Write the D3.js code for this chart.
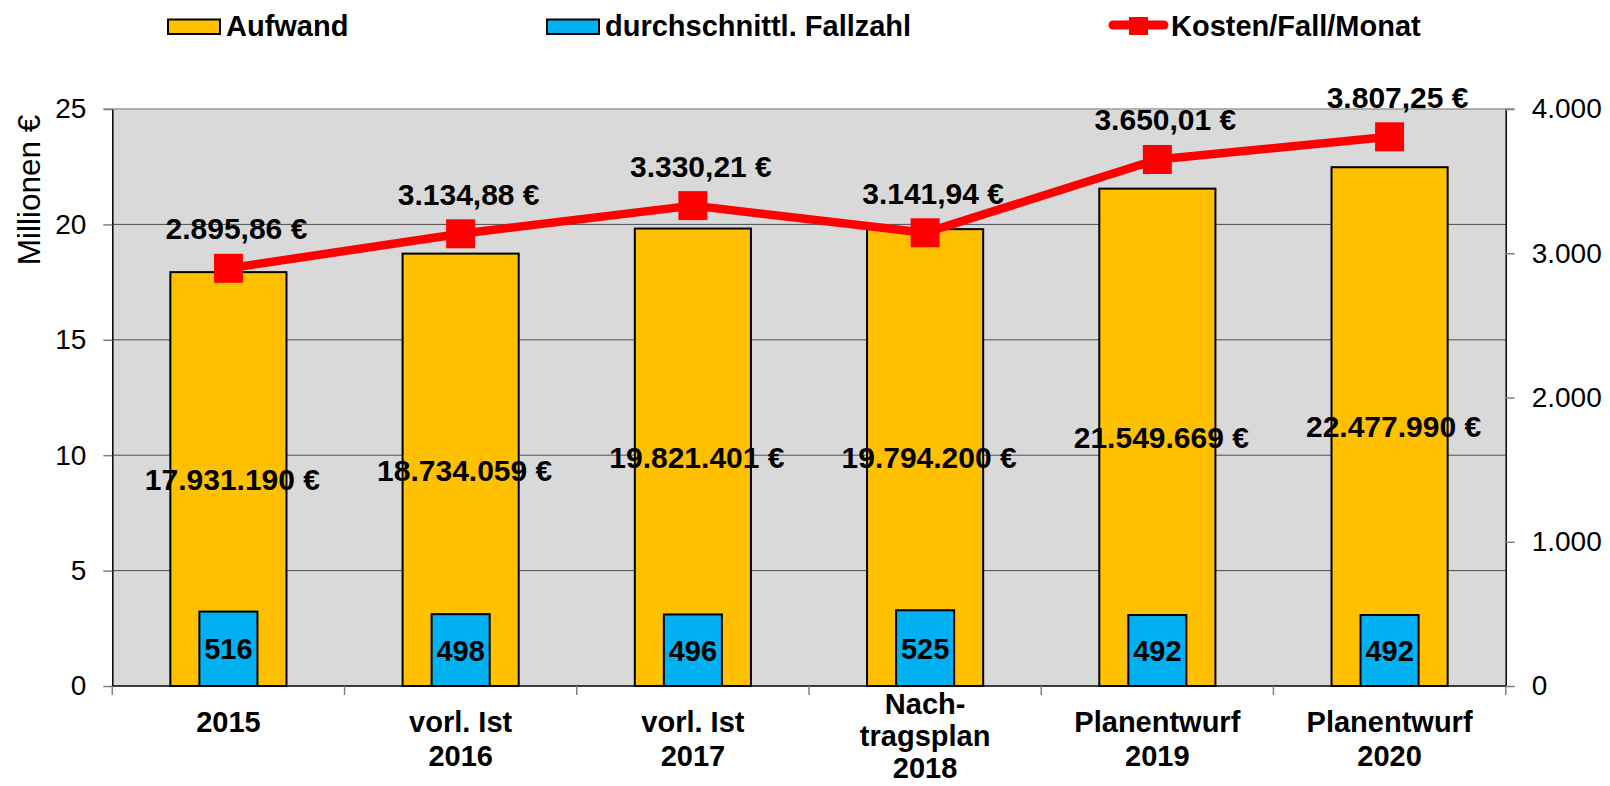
<!DOCTYPE html>
<html>
<head>
<meta charset="utf-8">
<script src="https://cdn.jsdelivr.net/npm/d3@7"></script>
<style>
  body { margin: 0; background: #fff; }
  text { font-family: "Liberation Sans", Arial, sans-serif; }
</style>
</head>
<body>
<div id="chart"></div>
<script>
// data
const categories = ['2015', 'vorl. Ist 2016', 'vorl. Ist 2017', 'Nachtragsplan 2018', 'Planentwurf 2019', 'Planentwurf 2020'];
const categoryLines = [['2015'], ['vorl. Ist', '2016'], ['vorl. Ist', '2017'], ['Nach-', 'tragsplan', '2018'], ['Planentwurf', '2019'], ['Planentwurf', '2020']];
const aufwand = [17931190, 18734059, 19821401, 19794200, 21549669, 22477990];
const fallzahl = [516, 498, 496, 525, 492, 492];
const kosten = [2895.86, 3134.88, 3330.21, 3141.94, 3650.01, 3807.25];
const leftTicks = [0, 5, 10, 15, 20, 25];
const rightTicks = [0, 1000, 2000, 3000, 4000];

const width = 1610, height = 786;
const plot = { left: 112.3, right: 1505.7, top: 109, bottom: 686 };

const orange = '#FFC000', blue = '#00B0F0', red = '#FF0000';

const deNum = d3.formatLocale({ decimal: ',', thousands: '.', grouping: [3], currency: ['', ' €'] });
const fmtInt = deNum.format(',d');
const fmtDec = deNum.format(',.2f');

const svg = d3.select('#chart').append('svg')
    .attr('width', width)
    .attr('height', height);

const x = d3.scaleBand()
    .domain(categories)
    .range([plot.left, plot.right])
    .padding(0);

const yL = d3.scaleLinear().domain([0, 25]).range([plot.bottom, plot.top]);
const yR = d3.scaleLinear().domain([0, 4000]).range([plot.bottom, plot.top]);

// plot background
svg.append('rect')
    .attr('x', plot.left)
    .attr('y', plot.top)
    .attr('width', plot.right - plot.left)
    .attr('height', plot.bottom - plot.top)
    .style('fill', '#D9D9D9');

// gridlines
svg.selectAll('.grid')
    .data(leftTicks.filter(d => d > 0 && d < 25))
    .enter().append('line')
    .attr('class', 'grid')
    .attr('x1', plot.left)
    .attr('x2', plot.right)
    .attr('y1', d => yL(d))
    .attr('y2', d => yL(d))
    .style('stroke', '#4d4d4d')
    .style('stroke-width', 1);

// top border
svg.append('line')
    .attr('x1', plot.left - 9).attr('x2', plot.right + 9)
    .attr('y1', yL(25)).attr('y2', yL(25))
    .style('stroke', '#9a9a9a').style('stroke-width', 1.5);

// left axis
const leftAxis = svg.append('g')
    .attr('transform', `translate(${plot.left},0)`)
    .call(d3.axisLeft(yL).tickValues(leftTicks).tickSize(9).tickPadding(17).tickSizeOuter(0));
leftAxis.select('.domain').style('stroke', '#000').style('stroke-width', 1.5);
leftAxis.selectAll('.tick line').style('stroke', '#808080').style('stroke-width', 1.5);
leftAxis.selectAll('.tick text').style('font-size', '28px').style('fill', '#000');

// right axis
const rightAxis = svg.append('g')
    .attr('transform', `translate(${plot.right},0)`)
    .call(d3.axisRight(yR).tickValues(rightTicks).tickSize(9).tickPadding(17).tickSizeOuter(0)
        .tickFormat(d => fmtInt(d)));
rightAxis.select('.domain').style('stroke', '#000').style('stroke-width', 1.5);
rightAxis.selectAll('.tick line').style('stroke', '#808080').style('stroke-width', 1.5);
rightAxis.selectAll('.tick text').style('font-size', '28px').style('fill', '#000');

// left axis title
svg.append('text')
    .attr('transform', 'translate(40,190) rotate(-90)')
    .style('text-anchor', 'middle')
    .style('font-size', '31.5px')
    .text('Millionen €');

// Aufwand bars
const bw = x.bandwidth();
svg.selectAll('.aufwand')
    .data(aufwand)
    .enter().append('rect')
    .attr('class', 'aufwand')
    .attr('x', (d, i) => x(categories[i]) + bw * 0.25)
    .attr('y', d => yL(d / 1e6))
    .attr('width', bw * 0.5)
    .attr('height', d => plot.bottom - yL(d / 1e6))
    .style('fill', orange)
    .style('stroke', '#000')
    .style('stroke-width', 2);

// Fallzahl bars (right axis)
svg.selectAll('.fall')
    .data(fallzahl)
    .enter().append('rect')
    .attr('class', 'fall')
    .attr('x', (d, i) => x(categories[i]) + bw * 0.375)
    .attr('y', d => yR(d))
    .attr('width', bw * 0.25)
    .attr('height', d => plot.bottom - yR(d))
    .style('fill', blue)
    .style('stroke', '#000')
    .style('stroke-width', 2);

// bottom axis line and category ticks
svg.append('line')
    .attr('x1', plot.left).attr('x2', plot.right)
    .attr('y1', plot.bottom).attr('y2', plot.bottom)
    .style('stroke', '#000').style('stroke-width', 1.5);

const boundaries = categories.map(c => x(c)).concat([plot.right]);
svg.selectAll('.xtick')
    .data(boundaries)
    .enter().append('line')
    .attr('class', 'xtick')
    .attr('x1', d => d).attr('x2', d => d)
    .attr('y1', plot.bottom).attr('y2', plot.bottom + 9)
    .style('stroke', '#808080').style('stroke-width', 1.5);

// category labels
const catLabels = svg.selectAll('.cat')
    .data(categoryLines)
    .enter().append('text')
    .attr('class', 'cat')
    .attr('x', (d, i) => x(categories[i]) + bw / 2)
    .attr('y', d => d.length > 2 ? 714 : 732)
    .style('text-anchor', 'middle')
    .style('font-size', '29px')
    .style('font-weight', 'bold');
catLabels.each(function (lines, i) {
    const t = d3.select(this);
    const step = lines.length > 2 ? 32 : 33.5;
    lines.forEach((ln, j) => {
        t.append('tspan')
            .attr('x', x(categories[i]) + bw / 2)
            .attr('dy', j === 0 ? 0 : step)
            .text(ln);
    });
});

// Kosten line
const line = d3.line()
    .x((d, i) => x(categories[i]) + bw / 2)
    .y(d => yR(d));

svg.append('path')
    .datum(kosten)
    .attr('d', line)
    .style('fill', 'none')
    .style('stroke', red)
    .style('stroke-width', 8.5)
    .style('stroke-linejoin', 'round');

svg.selectAll('.marker')
    .data(kosten)
    .enter().append('rect')
    .attr('class', 'marker')
    .attr('x', (d, i) => x(categories[i]) + bw / 2 - 14.5)
    .attr('y', d => yR(d) - 14.5)
    .attr('width', 29)
    .attr('height', 29)
    .style('fill', red);

// data labels
svg.selectAll('.aufLabel')
    .data(aufwand)
    .enter().append('text')
    .attr('class', 'aufLabel')
    .attr('x', (d, i) => x(categories[i]) + bw / 2 + 4)
    .attr('y', d => (yL(d / 1e6) + plot.bottom) / 2)
    .attr('dy', '0.36em')
    .style('text-anchor', 'middle')
    .style('font-size', '30px')
    .style('font-weight', 'bold')
    .text(d => fmtInt(d) + ' €');

svg.selectAll('.fallLabel')
    .data(fallzahl)
    .enter().append('text')
    .attr('class', 'fallLabel')
    .attr('x', (d, i) => x(categories[i]) + bw / 2)
    .attr('y', d => (yR(d) + plot.bottom) / 2)
    .attr('dy', '0.36em')
    .style('text-anchor', 'middle')
    .style('font-size', '29px')
    .style('font-weight', 'bold')
    .text(d => d);

svg.selectAll('.kostenLabel')
    .data(kosten)
    .enter().append('text')
    .attr('class', 'kostenLabel')
    .attr('x', (d, i) => x(categories[i]) + bw / 2 + 8)
    .attr('y', d => yR(d) - 29)
    .style('text-anchor', 'middle')
    .style('font-size', '30px')
    .style('font-weight', 'bold')
    .text(d => fmtDec(d) + ' €');

// legend
const legend = svg.append('g').attr('class', 'legend');
const legendItems = [
    { label: 'Aufwand', type: 'bar', color: orange, x: 168 },
    { label: 'durchschnittl. Fallzahl', type: 'bar', color: blue, x: 547 },
    { label: 'Kosten/Fall/Monat', type: 'line', color: red, x: 1109 }
];
legendItems.forEach(item => {
    if (item.type === 'bar') {
        legend.append('rect')
            .attr('x', item.x).attr('y', 19.5)
            .attr('width', 52).attr('height', 14.5)
            .style('fill', item.color)
            .style('stroke', '#000').style('stroke-width', 2);
    } else {
        legend.append('line')
            .attr('x1', item.x + 4).attr('x2', item.x + 55)
            .attr('y1', 25).attr('y2', 25)
            .style('stroke', item.color).style('stroke-width', 9)
            .style('stroke-linecap', 'round');
        legend.append('rect')
            .attr('x', item.x + 20).attr('y', 17)
            .attr('width', 19).attr('height', 18)
            .style('fill', item.color);
    }
    legend.append('text')
        .attr('x', item.x + (item.type === 'bar' ? 58 : 62))
        .attr('y', 36)
        .style('font-size', '29px')
        .style('font-weight', 'bold')
        .text(item.label);
});
</script>
</body>
</html>
